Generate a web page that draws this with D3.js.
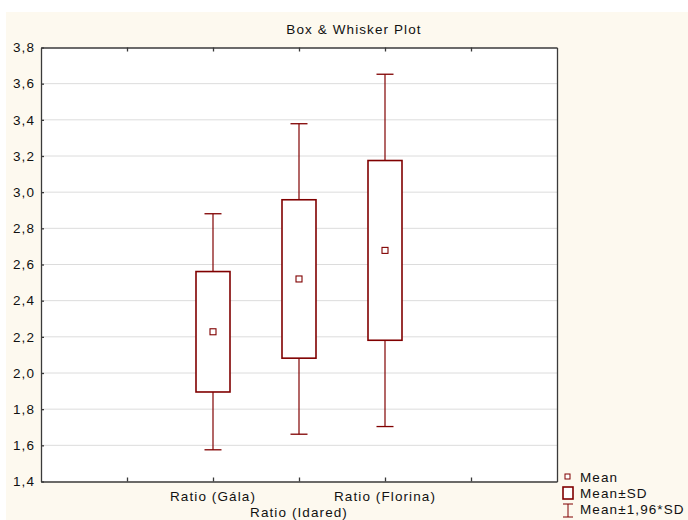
<!DOCTYPE html>
<html>
<head>
<meta charset="utf-8">
<script src="https://cdn.jsdelivr.net/npm/d3@7/dist/d3.min.js"></script>
<style>
  html, body { margin: 0; padding: 0; background: #ffffff; }
  svg { display: block; }
  text { font-family: "Liberation Sans", Arial, sans-serif; fill: #111111; font-size: 13.5px; letter-spacing: 1.1px; }
</style>
</head>
<body>
<svg id="chart" width="688" height="520"></svg>
<script>
// Variables plotted, one box per variable
const categories = ["Ratio (Gála)", "Ratio (Idared)", "Ratio (Florina)"];
const means = [2.228, 2.520, 2.678];
const sds = [0.333, 0.438, 0.497];
const yTicks = [1.4, 1.6, 1.8, 2.0, 2.2, 2.4, 2.6, 2.8, 3.0, 3.2, 3.4, 3.6, 3.8];
const legendLabels = ["Mean", "Mean±SD", "Mean±1,96*SD"];

const dark = "#800000";
const svg = d3.select("#chart");
const W = 688, H = 520;
const m = { left: 41, right: 557, top: 47.5, bottom: 481.5 };

// Panel background
svg.append("rect").attr("x", 6).attr("y", 12).attr("width", W - 6).attr("height", H - 12)
  .attr("fill", "#fdf9ef");

// Scales: categories sit at slots 2..4 of a 0..6 axis
const x = d3.scaleLinear().domain([0, 6]).range([m.left, m.right]);
const y = d3.scaleLinear().domain([1.4, 3.8]).range([m.bottom, m.top]);
const slot = i => x(i + 2);

// Plot area
svg.append("rect").attr("x", m.left).attr("y", m.top)
  .attr("width", m.right - m.left).attr("height", m.bottom - m.top).attr("fill", "#ffffff");

// Horizontal gridlines
svg.append("g").selectAll("line").data(yTicks.slice(1, -1)).join("line")
  .attr("x1", m.left).attr("x2", m.right)
  .attr("y1", d => y(d)).attr("y2", d => y(d))
  .attr("stroke", "#dcdcdc").attr("stroke-width", 1);

// Axes with inward ticks
const fmt = d => d3.format(".1f")(d).replace(".", ",");
const yAxis = svg.append("g").attr("transform", `translate(${m.left},0)`)
  .call(d3.axisLeft(y).tickValues(yTicks).tickFormat(fmt).tickSizeInner(-3).tickSizeOuter(0).tickPadding(6));
const xTickVals = [1, 2, 3, 4, 5];
const xBottom = svg.append("g").attr("transform", `translate(0,${m.bottom})`)
  .call(d3.axisBottom(x).tickValues(xTickVals).tickFormat("").tickSizeInner(-4).tickSizeOuter(0));
const xTop = svg.append("g").attr("transform", `translate(0,${m.top})`)
  .call(d3.axisTop(x).tickValues(xTickVals).tickFormat("").tickSizeInner(-4).tickSizeOuter(0));
const yRight = svg.append("g").attr("transform", `translate(${m.right},0)`)
  .call(d3.axisRight(y).tickValues([]).tickSizeOuter(0));
[yAxis, xBottom, xTop, yRight].forEach(g => {
  g.selectAll("path, line").attr("stroke", "#3a3a3a").attr("stroke-width", 1.3);
});
yAxis.selectAll("text").attr("fill", "#111111")
  .style("font-size", "13.5px").style("letter-spacing", "1.1px")
  .style("font-family", "'Liberation Sans', Arial, sans-serif");

// Category labels, staggered on two rows
svg.append("g").selectAll("text").data(categories).join("text")
  .attr("x", (d, i) => slot(i))
  .attr("y", (d, i) => i % 2 === 0 ? m.bottom + 19 : m.bottom + 35)
  .attr("text-anchor", "middle").text(d => d);

// Title
svg.append("text").attr("x", 354).attr("y", 34).attr("text-anchor", "middle")
  .text("Box & Whisker Plot");

// Boxes, whiskers, means
const boxW = 34, capW = 17, meanS = 6;
const g = svg.append("g");
categories.forEach((c, i) => {
  const cx = slot(i), mu = means[i], sd = sds[i];
  const lo = mu - 1.96 * sd, hi = mu + 1.96 * sd;
  g.append("line").attr("x1", cx).attr("x2", cx).attr("y1", y(hi)).attr("y2", y(mu + sd))
    .attr("stroke", dark).attr("stroke-width", 1.2);
  g.append("line").attr("x1", cx).attr("x2", cx).attr("y1", y(mu - sd)).attr("y2", y(lo))
    .attr("stroke", dark).attr("stroke-width", 1.2);
  [hi, lo].forEach(v => g.append("line")
    .attr("x1", cx - capW / 2).attr("x2", cx + capW / 2).attr("y1", y(v)).attr("y2", y(v))
    .attr("stroke", dark).attr("stroke-width", 1.3));
  g.append("rect").attr("x", cx - boxW / 2).attr("y", y(mu + sd))
    .attr("width", boxW).attr("height", y(mu - sd) - y(mu + sd))
    .attr("fill", "#ffffff").attr("stroke", dark).attr("stroke-width", 1.6);
  g.append("rect").attr("x", cx - meanS / 2).attr("y", y(mu) - meanS / 2)
    .attr("width", meanS).attr("height", meanS)
    .attr("fill", "#ffffff").attr("stroke", dark).attr("stroke-width", 1.1);
});

// Legend
const lg = svg.append("g").attr("transform", "translate(568,0)");
lg.append("rect").attr("x", -3).attr("y", 474).attr("width", 5).attr("height", 5)
  .attr("fill", "#fff").attr("stroke", dark).attr("stroke-width", 1);
lg.append("rect").attr("x", -5).attr("y", 487).attr("width", 10).attr("height", 12)
  .attr("fill", "#fff").attr("stroke", dark).attr("stroke-width", 1.6);
lg.append("line").attr("x1", 0).attr("x2", 0).attr("y1", 504).attr("y2", 517).attr("stroke", dark);
lg.append("line").attr("x1", -5).attr("x2", 5).attr("y1", 504).attr("y2", 504).attr("stroke", dark);
lg.append("line").attr("x1", -5).attr("x2", 5).attr("y1", 517).attr("y2", 517).attr("stroke", dark);
lg.selectAll("text.leg").data(legendLabels).join("text").attr("class", "leg")
  .attr("x", 12).attr("y", (d, i) => 482 + i * 16)
  .text(d => d);
</script>
</body>
</html>
